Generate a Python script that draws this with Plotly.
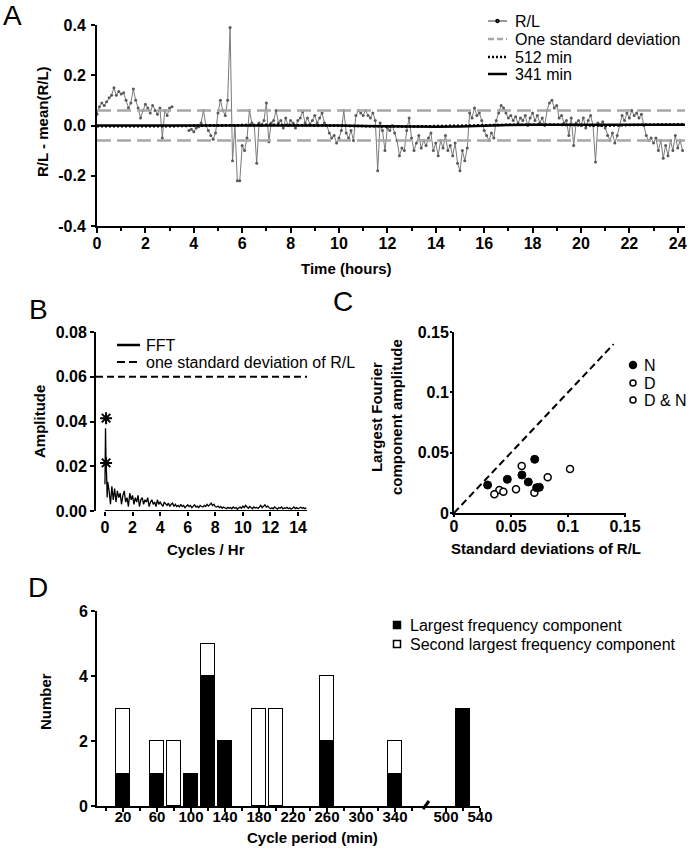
import plotly.graph_objects as go

W, H = 690, 853
FONT = "Liberation Sans, Arial, sans-serif"


def px(x):
    return x / W


def py(y):
    return 1 - y / H


# ---------------- Panel A data ----------------
rl_values = [
    0.045, 0.075, 0.09, 0.08, 0.095, 0.11, 0.12, 0.15, 0.12, 0.135,
    0.125, 0.13, 0.10, 0.07, 0.09, 0.145, 0.10, 0.07, 0.03, 0.06,
    0.085, 0.07, 0.05, 0.08, 0.06, 0.045, 0.07, -0.05, 0.06, 0.04,
    0.07, 0.075, None, None, None, None, None, None, -0.02, -0.015,
    -0.025, -0.01, -0.005, 0.01, 0.06, 0.0, -0.02, -0.04, -0.055, -0.03,
    0.05, 0.10, 0.06, 0.04, 0.10, 0.39, -0.14, 0.0, -0.22, -0.22,
    -0.08, -0.10, -0.05, 0.06, 0.01, 0.0, -0.15, 0.01, 0.0, 0.02,
    0.09, -0.065, 0.01, 0.02, 0.06, 0.01, 0.02, -0.01, 0.03, 0.0,
    0.02, 0.01, -0.01, 0.02, 0.03, 0.055, 0.01, 0.03, 0.005, 0.02,
    0.04, 0.01, 0.03, 0.05, 0.01, 0.0, -0.03, -0.05, -0.04, -0.07,
    -0.05, -0.02, 0.06, -0.03, -0.05, -0.02, -0.06, 0.04, 0.06, 0.05,
    0.04, 0.06, 0.04, 0.03, 0.05, 0.02, -0.18, 0.01, -0.02, -0.10,
    -0.01, -0.02, 0.0, -0.03, -0.06, -0.12, -0.09, -0.10, -0.02, 0.03,
    -0.05, -0.10, -0.07, -0.04, -0.09, -0.06, -0.08, -0.05, -0.03, -0.10,
    -0.07, -0.12, -0.06, -0.09, -0.04, -0.10, -0.08, -0.12, -0.07, -0.15,
    -0.18, -0.10, -0.14, -0.09, 0.05, 0.03, 0.07, 0.04, 0.05, 0.02,
    -0.02, -0.04, -0.06, -0.03, -0.05, 0.02, 0.05, 0.08, 0.07, 0.05,
    0.03, 0.04, 0.02, 0.035, 0.01, 0.03, 0.02, 0.04, 0.0, 0.03,
    0.05, 0.02, 0.04, 0.01, 0.03, 0.0, 0.06, 0.09, 0.10, 0.07,
    0.08, 0.03, 0.04, 0.01, 0.02, -0.04, 0.03, -0.08, 0.01, 0.02,
    0.0, 0.03, -0.01, 0.02, 0.04, 0.0, -0.145, 0.01, 0.0, 0.015,
    -0.01, -0.04, -0.06, -0.03, -0.07, -0.04, 0.0, 0.04, 0.02, 0.05,
    0.03, 0.06, 0.04, 0.05, 0.03, 0.045, 0.0, -0.04, -0.06, -0.05,
    -0.07, -0.05, -0.10, -0.06, -0.13, -0.08, -0.12, -0.06, -0.10, -0.04,
    -0.09, -0.06, -0.10,
]
rl_time = [round(0.1 * i, 1) for i in range(len(rl_values))]
sd_rl = 0.06
sd_time = [0, 24.3]

model_time = [0, 1, 2, 3, 4, 5, 6, 7, 8, 9, 10, 11, 12, 13, 14, 15, 16, 17,
              18, 19, 20, 21, 22, 23, 24, 24.3]
model_341 = [0.0, 0.001, 0.0, 0.0, 0.0, 0.0, 0.002, 0.002, 0.001, 0.001, 0.0,
             -0.002, -0.004, -0.005, -0.005, -0.004, 0.0, 0.002, 0.003, 0.003,
             0.002, 0.0, 0.001, 0.002, 0.003, 0.003]
model_512 = [-0.003, -0.004, -0.004, -0.003, -0.001, 0.001, 0.002, 0.003,
             0.002, 0.0, -0.002, -0.003, -0.004, -0.004, -0.003, -0.001, 0.001,
             0.003, 0.004, 0.003, 0.001, -0.001, 0.002, 0.004, 0.005, 0.005]

# ---------------- Panel B data ----------------
fft_amp = [
    0.012, 0.037, 0.02, 0.016, 0.006, 0.013,
    0.009, 0.003, 0.011, 0.005, 0.01, 0.004, 0.009, 0.006,
    0.008, 0.003, 0.007, 0.009, 0.004, 0.006, 0.002, 0.008, 0.005, 0.007,
    0.003, 0.006, 0.004, 0.007, 0.002, 0.005, 0.006, 0.003, 0.005, 0.004,
    0.006, 0.002, 0.004, 0.005, 0.003, 0.004, 0.002, 0.005, 0.003, 0.004,
    0.003, 0.002, 0.004, 0.003, 0.0025, 0.0035, 0.002, 0.003, 0.0035, 0.002,
    0.003, 0.002, 0.0025, 0.0018, 0.003, 0.002, 0.0025, 0.0015, 0.0022, 0.0028,
    0.002, 0.0025, 0.0015, 0.002, 0.0028, 0.0018, 0.0022, 0.0015, 0.0025, 0.002,
    0.0018, 0.0025, 0.002, 0.003, 0.0022, 0.0028, 0.0035, 0.0025, 0.003, 0.002,
    0.0018, 0.0022, 0.0015, 0.002, 0.0012, 0.0018, 0.0015, 0.001, 0.0016, 0.0012,
    0.0015, 0.001, 0.0018, 0.0012, 0.0015, 0.0008, 0.0014, 0.0018, 0.0012, 0.0022,
    0.0015, 0.0025, 0.0018, 0.0012, 0.002, 0.0015, 0.001, 0.0018, 0.0013, 0.0016,
    0.0012, 0.0018, 0.0025, 0.0015, 0.002, 0.0028, 0.0018, 0.0022, 0.0015, 0.001,
    0.0014, 0.001, 0.0018, 0.0012, 0.0008, 0.0015, 0.0012, 0.0018, 0.001, 0.0014,
    0.0012, 0.0016, 0.001, 0.0014, 0.0008, 0.0012, 0.0018, 0.0011, 0.0015, 0.001,
    0.0013, 0.0017, 0.0012, 0.0015, 0.001, 0.0014,
]
fft_freq = [0.0, 0.04, 0.08, 0.12, 0.16, 0.2] + [
    round(0.3 + 0.1 * i, 1) for i in range(len(fft_amp) - 6)]
peak_freq = [0.08, 0.08]
peak_amp = [0.0415, 0.0215]
sd_line_freq = [-0.65, 14.65]

# ---------------- Panel C data ----------------
n_sd = [0.0295, 0.0468, 0.0596, 0.0708, 0.0652, 0.0725, 0.0749]
n_amp = [0.0232, 0.0279, 0.0315, 0.0445, 0.0257, 0.0210, 0.0213]
d_sd = [0.0398, 0.0433, 0.0544, 0.0705, 0.0822]
d_amp = [0.0190, 0.0177, 0.0196, 0.0168, 0.0296]
dn_sd = [0.0354, 0.0594, 0.1018]
dn_amp = [0.0155, 0.0390, 0.0365]
identity = [0, 0.14]

# ---------------- Panel D data ----------------
period_bins = [20, 60, 80, 100, 120, 140, 180, 200, 260, 340, 520]
largest_counts = [1, 1, None, 1, 4, 2, None, None, 2, 1, 3]
second_counts = [2, 1, 2, None, 1, None, 3, 3, 2, 1, None]
tick_periods = [20, 60, 100, 140, 180, 220, 260, 300, 340, 500, 540]
axis_break_gap = 100  # periods beyond the break are shifted left


def broken(p):
    return p - axis_break_gap if p > 400 else p


bar_x = [broken(p) for p in period_bins]
tick_x = [broken(p) for p in tick_periods]

fig = go.Figure()

# Panel A traces
fig.add_trace(go.Scatter(
    x=rl_time, y=rl_values, mode="lines+markers", connectgaps=False,
    line=dict(color="#7a7a7a", width=1),
    marker=dict(color="#5a5a5a", size=3), xaxis="x", yaxis="y",
    showlegend=False))
for s in (sd_rl, -sd_rl):
    fig.add_trace(go.Scatter(
        x=sd_time, y=[s, s], mode="lines",
        line=dict(color="#a8a8a8", width=2.5, dash="14px,6px"),
        xaxis="x", yaxis="y", showlegend=False))
fig.add_trace(go.Scatter(
    x=model_time, y=model_512, mode="lines",
    line=dict(color="black", width=2.5, dash="2px,2px"),
    xaxis="x", yaxis="y", showlegend=False))
fig.add_trace(go.Scatter(
    x=model_time, y=model_341, mode="lines",
    line=dict(color="black", width=2.5),
    xaxis="x", yaxis="y", showlegend=False))

# Panel B traces
fig.add_trace(go.Scatter(
    x=sd_line_freq, y=[sd_rl, sd_rl], mode="lines",
    line=dict(color="black", width=2, dash="7px,4px"),
    xaxis="x2", yaxis="y2", showlegend=False))
fig.add_trace(go.Scatter(
    x=fft_freq, y=fft_amp, mode="lines",
    line=dict(color="black", width=1.3),
    xaxis="x2", yaxis="y2", showlegend=False))
fig.add_trace(go.Scatter(
    x=peak_freq, y=peak_amp, mode="markers",
    marker=dict(symbol="asterisk-open", size=10, color="black",
                line=dict(color="black", width=2)),
    xaxis="x2", yaxis="y2", showlegend=False))

# Panel C traces
fig.add_trace(go.Scatter(
    x=identity, y=identity, mode="lines",
    line=dict(color="black", width=2, dash="7px,4px"),
    xaxis="x3", yaxis="y3", showlegend=False))
fig.add_trace(go.Scatter(
    x=d_sd, y=d_amp, mode="markers",
    marker=dict(symbol="circle", size=7, color="white",
                line=dict(color="black", width=1.5)),
    xaxis="x3", yaxis="y3", showlegend=False))
fig.add_trace(go.Scatter(
    x=dn_sd, y=dn_amp, mode="markers",
    marker=dict(symbol="circle", size=7, color="white",
                line=dict(color="black", width=1.5)),
    xaxis="x3", yaxis="y3", showlegend=False))
fig.add_trace(go.Scatter(
    x=n_sd, y=n_amp, mode="markers",
    marker=dict(symbol="circle", size=8, color="black",
                line=dict(color="black", width=1)),
    xaxis="x3", yaxis="y3", showlegend=False))

# Panel D traces
fig.add_trace(go.Bar(
    x=bar_x, y=largest_counts, width=17.6,
    marker=dict(color="black", line=dict(color="black", width=1.5)),
    xaxis="x4", yaxis="y4", showlegend=False))
fig.add_trace(go.Bar(
    x=bar_x, y=second_counts, width=17.6,
    marker=dict(color="white", line=dict(color="black", width=1.5)),
    xaxis="x4", yaxis="y4", showlegend=False))

tickfont = dict(family=FONT, size=16, color="black", weight="bold")
base_axis = dict(showline=True, linecolor="black", linewidth=2,
                 ticks="outside", ticklen=4, tickwidth=1.5, tickcolor="black",
                 showgrid=False, zeroline=False, tickfont=tickfont,
                 automargin=False)

fig.update_layout(
    width=W, height=H, margin=dict(l=0, r=0, t=0, b=0, pad=0),
    autosize=False,
    paper_bgcolor="white", plot_bgcolor="white", barmode="stack",
    bargap=0, showlegend=False,
    font=dict(family=FONT, color="black"),
    xaxis=dict(base_axis, domain=[px(97), px(685)], range=[0, 24.3],
               anchor="y", tickvals=list(range(0, 25, 2)), ticklen=5,
               ticklabelstandoff=-3,
               minor=dict(tickvals=list(range(1, 25, 2)), ticklen=3,
                          ticks="outside", tickcolor="black", tickwidth=1.5)),
    yaxis=dict(base_axis, domain=[py(226), py(25)], range=[-0.4, 0.4],
               anchor="x", tickvals=[-0.4, -0.2, 0, 0.2, 0.4],
               ticklabelstandoff=2,
               ticktext=["-0.4", "-0.2", "0.0", "0.2", "0.4"]),
    xaxis2=dict(base_axis, domain=[px(96), px(307)], range=[-0.65, 14.65],
                anchor="y2", tickvals=list(range(0, 15, 2)), showline=False,
                ticklabelstandoff=-2),
    yaxis2=dict(base_axis, domain=[py(511), py(332)], range=[0, 0.08],
                anchor="x2", tickvals=[0, 0.02, 0.04, 0.06, 0.08],
                ticktext=["0.00", "0.02", "0.04", "0.06", "0.08"]),
    xaxis3=dict(base_axis, domain=[px(454), px(626)], range=[0, 0.1509],
                anchor="y3", tickvals=[0, 0.05, 0.1, 0.15],
                ticktext=["0", "0.05", "0.1", "0.15"], ticklen=2,
                ticklabelstandoff=-4),
    yaxis3=dict(base_axis, domain=[py(513), py(332)], range=[0, 0.15],
                anchor="x3", tickvals=[0, 0.05, 0.1, 0.15],
                ticktext=["0", "0.05", "0.1", "0.15"], ticklen=2,
                ticklabelstandoff=-2),
    xaxis4=dict(base_axis, domain=[px(97), px(480)], range=[-10.6, 440],
                anchor="y4", tickvals=tick_x,
                ticktext=[str(p) for p in tick_periods],
                ticklabelstandoff=-8,
                tickfont=dict(tickfont, size=15),
                minor=dict(tickvals=[0, 40, 80, 120, 160, 200, 240, 280, 320,
                                     360, 420],
                           ticklen=3, ticks="outside", tickcolor="black",
                           tickwidth=1.5)),
    yaxis4=dict(base_axis, domain=[py(806), py(611)], range=[0, 6],
                anchor="x4", tickvals=[0, 2, 4, 6]),
)

shapes = []
annotations = []

# B x-axis line starting at 0
shapes.append(dict(type="line", xref="x2", yref="y2", x0=0, x1=14.65,
                   y0=0, y1=0, line=dict(color="black", width=2)))
# D axis break mark
shapes.append(dict(type="line", xref="paper", yref="paper",
                   x0=px(423), x1=px(429), y0=py(809), y1=py(801),
                   line=dict(color="black", width=3)))


def text(x, y, s, size=16, bold=False, angle=0, anchor="center"):
    annotations.append(dict(
        x=px(x), y=py(y), xref="paper", yref="paper", text=s,
        showarrow=False, textangle=angle, xanchor=anchor, yanchor="middle",
        font=dict(family=FONT, size=size, color="black",
                  weight="bold" if bold else "normal")))


def line_sample(x0, x1, y, color, width, dash="solid"):
    shapes.append(dict(type="line", xref="paper", yref="paper",
                       x0=px(x0), x1=px(x1), y0=py(y), y1=py(y),
                       line=dict(color=color, width=width, dash=dash)))


def circle_sample(cx, cy, r, fill):
    shapes.append(dict(type="circle", xref="paper", yref="paper",
                       x0=px(cx - r), x1=px(cx + r), y0=py(cy + r),
                       y1=py(cy - r), fillcolor=fill,
                       line=dict(color="black", width=1.5)))


def square_sample(cx, cy, r, fill):
    shapes.append(dict(type="rect", xref="paper", yref="paper",
                       x0=px(cx - r), x1=px(cx + r), y0=py(cy + r),
                       y1=py(cy - r), fillcolor=fill,
                       line=dict(color="black", width=1.5)))


# Panel letters
text(12, 16, "A", size=28)
text(38, 309, "B", size=28)
text(343, 301, "C", size=28)
text(38, 587, "D", size=28)

# Axis titles
text(43, 122, "R/L - mean(R/L)", size=15, bold=True, angle=-90)
text(347, 268, "Time (hours)", size=15, bold=True)
text(40, 422, "Amplitude", size=15, bold=True, angle=-90)
text(206, 549, "Cycles / Hr", size=15, bold=True)
text(386, 417, "Largest Fourier<br>component amplitude", size=15, bold=True,
     angle=-90)
text(546, 548, "Standard deviations of R/L", size=15, bold=True)
text(45, 702, "Number", size=15, bold=True, angle=-90)
text(312, 837, "Cycle period (min)", size=15, bold=True)

# Legend A
line_sample(488, 507, 21, "#7a7a7a", 1.5)
circle_sample(497.5, 21, 1.5, "#5a5a5a")
text(513, 21, "R/L", anchor="left")
line_sample(488, 507, 39, "#a8a8a8", 2.5, "6px,3px")
text(513, 39, "One standard deviation", anchor="left")
line_sample(488, 507, 57, "black", 2.5, "2px,2px")
text(513, 57, "512 min", anchor="left")
line_sample(488, 507, 74, "black", 2.5)
text(513, 74, "341 min", anchor="left")

# Legend B
line_sample(117, 140, 345, "black", 2.5)
text(144, 345, "FFT", anchor="left")
line_sample(117, 140, 362, "black", 2, "8px,4px")
text(144, 362, "one standard deviation of R/L", anchor="left")

# Legend C
circle_sample(633, 365, 3.5, "black")
text(642, 365, "N", anchor="left")
circle_sample(633, 383, 3, "white")
text(642, 383, "D", anchor="left")
circle_sample(633, 400, 3, "white")
text(642, 400, "D & N", anchor="left")

# Legend D
square_sample(397, 625, 3.5, "black")
text(408, 625, "Largest frequency component", anchor="left")
square_sample(397, 644, 3.5, "white")
text(408, 644, "Second largest frequency component", anchor="left")

fig.update_layout(shapes=shapes, annotations=annotations)
fig.write_html(
    "out.html",
    config={"displayModeBar": False},
    post_script=("document.body.style.margin='0';"
                 "document.body.style.padding='0';"
                 "document.body.style.overflow='hidden';"))
